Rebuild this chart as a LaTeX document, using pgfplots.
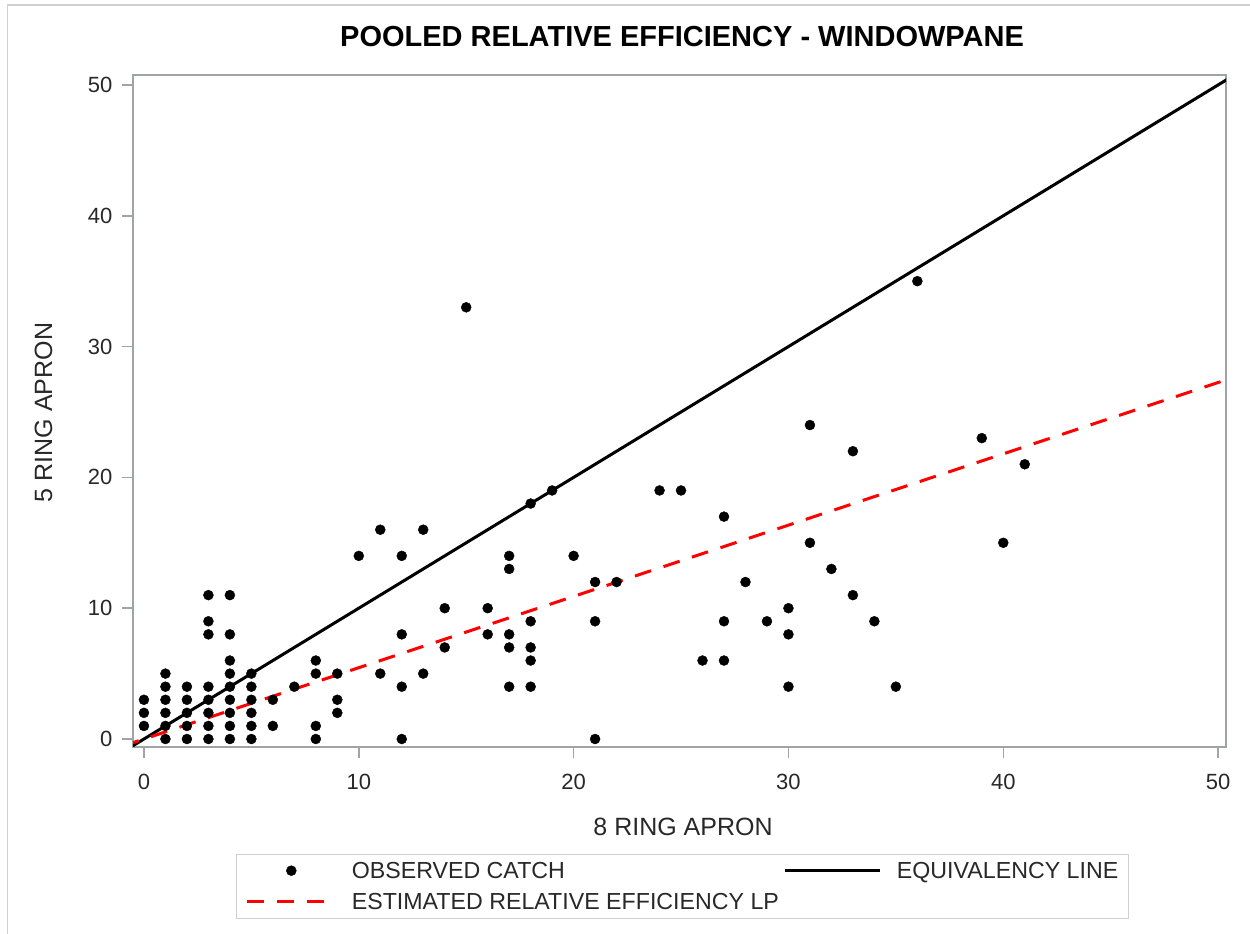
\documentclass[border=0pt]{standalone}
\usepackage{fontspec}
\setmainfont{Liberation Sans}
\usepackage{pgfplots}
\pgfplotsset{compat=1.18}
\definecolor{axisgray}{RGB}{160,164,168}
\definecolor{framegray}{RGB}{208,208,208}
\definecolor{txtgray}{RGB}{40,40,40}
\begin{document}
\begin{tikzpicture}[x=1pt,y=1pt]
\useasboundingbox (0,0) rectangle (1250,934);
\draw[framegray, line width=1.5pt] (7.5,-20) -- (7.5,929) -- (1270,929);
\begin{axis}[
  at={(133pt,187pt)}, anchor=south west,
  width=1093pt, height=672pt, scale only axis,
  xmin=-0.51, xmax=50.37, ymin=-0.61, ymax=50.76,
  xtick={0,10,20,30,40,50}, ytick={0,10,20,30,40,50},
  tick pos=left, tick align=outside, major tick length=11pt,
  axis line style={axisgray, line width=1.5pt},
  tick style={axisgray, line width=1.5pt},
  ticklabel style={font=\fontsize{22}{26}\selectfont, text=txtgray},
  xticklabel style={yshift=-13pt},
  yticklabel style={xshift=-6pt},
  /pgf/number format/assume math mode=true,
  title={POOLED RELATIVE EFFICIENCY - WINDOWPANE},
  title style={at={(axis description cs:0.5023,1.0335)}, anchor=base, font=\bfseries\fontsize{29}{34}\selectfont},
  xlabel={8 RING APRON},
  xlabel style={at={(axis description cs:0.5032,-0.131)}, anchor=base, font=\fontsize{25}{30}\selectfont, text=txtgray},
  ylabel={5 RING APRON},
  ylabel style={at={(axis description cs:-0.0741,0.4978)}, anchor=base, font=\fontsize{25}{30}\selectfont, text=txtgray},
  legend columns=2, legend cell align=left,
  legend style={at={(axis description cs:0.5023,-0.1592)}, anchor=north,
    draw=framegray, font=\fontsize{23.2}{28}\selectfont, text=txtgray,
    inner xsep=10pt, inner ysep=8.5pt, /tikz/row sep=15pt,
    nodes={inner sep=0pt, text height=16pt, text depth=0pt},
    /tikz/every odd column/.append style={column sep=15pt},
    /tikz/every even column/.append style={column sep=5pt}},
]
\addplot[only marks, mark=*, mark size=5pt, black, line width=0.4pt,
  legend image code/.code={\draw[mark repeat=2,mark phase=2] plot coordinates {(0pt,0pt) (44pt,0pt) (88pt,0pt)};}]
  coordinates {
  (0,1)(0,2)(0,3)
  (1,0)(1,1)(1,2)(1,3)(1,4)(1,5)
  (2,0)(2,1)(2,2)(2,3)(2,4)
  (3,0)(3,1)(3,2)(3,3)(3,4)(3,8)(3,9)(3,11)
  (4,0)(4,1)(4,2)(4,3)(4,4)(4,5)(4,6)(4,8)(4,11)
  (5,0)(5,1)(5,2)(5,3)(5,4)(5,5)
  (6,1)(6,3)
  (7,4)
  (8,0)(8,1)(8,5)(8,6)
  (9,2)(9,3)(9,5)
  (10,14)
  (11,5)(11,16)
  (12,0)(12,4)(12,8)(12,14)
  (13,5)(13,16)
  (14,7)(14,10)
  (15,33)
  (16,8)(16,10)
  (17,4)(17,7)(17,8)(17,13)(17,14)
  (18,4)(18,6)(18,7)(18,9)(18,18)
  (19,19)
  (20,14)
  (21,0)(21,9)(21,12)
  (22,12)
  (24,19)
  (25,19)
  (26,6)
  (27,6)(27,9)(27,17)
  (28,12)
  (29,9)
  (30,4)(30,8)(30,10)
  (31,15)(31,24)
  (32,13)
  (33,11)(33,22)
  (34,9)
  (35,4)
  (36,35)
  (39,23)
  (40,15)
  (41,21)
  };
\addlegendentry{OBSERVED CATCH}
\addplot[black, line width=3pt, no marks,
  legend image code/.code={\draw (0pt,0pt) -- (95pt,0pt);}]
  coordinates {(-1,-1) (52,52)};
\addlegendentry{EQUIVALENCY LINE}
\addplot[red, line width=3pt, no marks, dash pattern=on 17pt off 13pt,
  legend image code/.code={\draw (0pt,0pt) -- (88pt,0pt);}]
  coordinates {(-1,-0.545) (52,28.34)};
\addlegendentry{ESTIMATED RELATIVE EFFICIENCY LP}
\end{axis}
\end{tikzpicture}
\end{document}
